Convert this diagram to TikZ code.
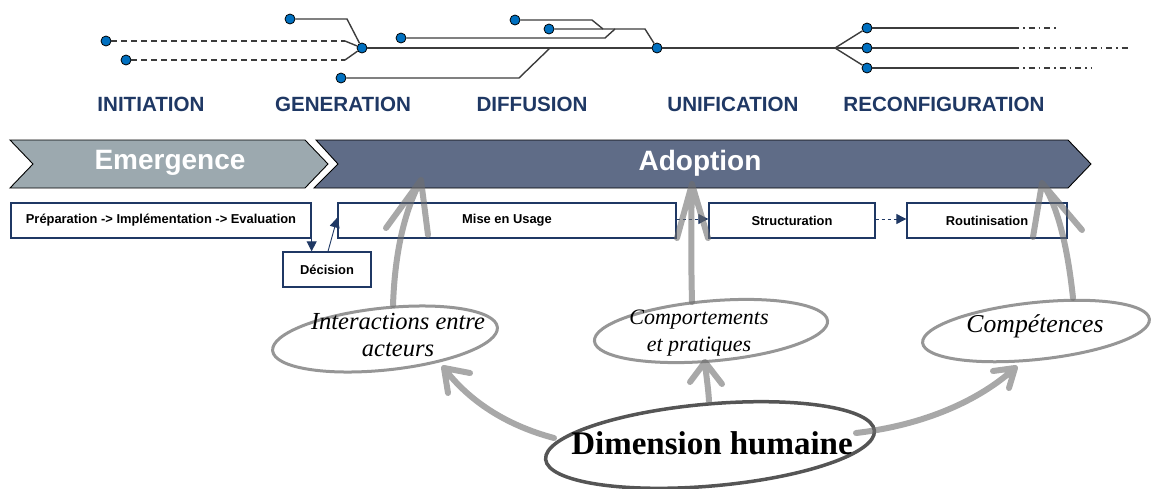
\documentclass[tikz,border=0pt]{standalone}
\usepackage{fontspec}
\setmainfont{Liberation Serif}
\setsansfont{Liberation Sans}
\usetikzlibrary{shapes.geometric,arrows.meta}
\definecolor{navy}{RGB}{31,56,100}
\definecolor{netgray}{RGB}{60,60,60}
\definecolor{dotblue}{RGB}{0,112,192}
\definecolor{emgray}{RGB}{156,169,175}
\definecolor{adpblue}{RGB}{95,108,135}
\definecolor{ellgray}{RGB}{150,150,150}
\definecolor{dimgray}{RGB}{85,85,85}
\definecolor{arrgray}{RGB}{110,110,110}
\tikzset{
  dot/.style={circle, fill=dotblue, draw=black, line width=0.8pt, inner sep=0pt, minimum size=10pt},
  net/.style={draw=netgray, line width=1.4pt},
  netdash/.style={net, dash pattern=on 6pt off 4pt},
  netdashdot/.style={net, dash pattern=on 6pt off 4pt on 1.5pt off 4pt},
  phase/.style={font=\sffamily\bfseries\fontsize{20.6}{21}\selectfont, text=navy},
  bartext/.style={font=\sffamily\bfseries\fontsize{28}{28}\selectfont, text=white},
  stagebox/.style={draw=navy, line width=1.3pt, fill=white, inner sep=0pt, minimum height=35pt,
    font=\sffamily\bfseries\fontsize{12.9}{14}\selectfont, text=black},
  bluearrow/.style={draw=navy, line width=0.9pt, -{Triangle[length=10pt,width=10pt]}},
  dasharrow/.style={bluearrow, dash pattern=on 3pt off 3pt},
  handell/.style={ellipse, draw=ellgray, line width=3pt, inner sep=0pt},
  grayarrow/.style={draw=arrgray, opacity=0.6, line width=6pt, line cap=round, line join=round},
  elltext/.style={font=\itshape\fontsize{22}{27}\selectfont, align=center}
}
\begin{document}
\begin{tikzpicture}[x=1pt,y=-1pt]
\useasboundingbox (0,0) rectangle (1152,488);

% ---------- top network ----------
\node[dot] (d1) at (106,41) {};
\node[dot] (d2) at (126,60) {};
\node[dot] (d3) at (290,19) {};
\node[dot] (hub) at (362,48) {};
\node[dot] (d4) at (401,38) {};
\node[dot] (d5) at (341,78) {};
\node[dot] (d6) at (515,20) {};
\node[dot] (d7) at (549,29) {};
\node[dot] (u) at (657,48) {};
\node[dot] (r1) at (867,28) {};
\node[dot] (r2) at (867,48) {};
\node[dot] (r3) at (867,68) {};
\coordinate (k1) at (345,41);
\coordinate (k2) at (345,60);
\coordinate (k3) at (347,19);
\coordinate (k4) at (605,38);
\coordinate (k5) at (615,29);
\coordinate (k6) at (592,20);
\coordinate (k7) at (603,29);
\coordinate (k8) at (645,29);
\coordinate (k9) at (519,78);
\coordinate (k10) at (550,48);
\coordinate (br) at (835,48);
\coordinate (s1) at (1013,28);
\coordinate (s2) at (1013,48);
\coordinate (s3) at (1013,68);
\coordinate (t1) at (1057,28);
\coordinate (t2) at (1130,48);
\coordinate (t3) at (1092,68);
\draw[netdash] (d1) -- (k1);
\draw[net] (k1) -- (hub);
\draw[netdash] (d2) -- (k2);
\draw[net] (k2) -- (hub);
\draw[net] (d3) -- (k3) -- (hub);
\draw[net] (hub) -- (u);
\draw[net] (u) -- (br);
\draw[net] (d4) -- (k4) -- (k5);
\draw[net] (d6) -- (k6) -- (k7);
\draw[net] (d7) -- (k8) -- (u);
\draw[net] (d5) -- (k9) -- (k10);
\draw[net] (br) -- (r1);
\draw[net] (br) -- (r2);
\draw[net] (br) -- (r3);
\draw[net] (r1) -- (s1);
\draw[net] (r2) -- (s2);
\draw[net] (r3) -- (s3);
\draw[netdashdot] (s1) -- (t1);
\draw[netdashdot] (s2) -- (t2);
\draw[netdashdot] (s3) -- (t3);

% ---------- phase labels ----------
\node[phase] (p1) at (151,104) {INITIATION};
\node[phase] (p2) at (343,104) {GENERATION};
\node[phase] (p3) at (532,104) {DIFFUSION};
\node[phase] (p4) at (733,104) {UNIFICATION};
\node[phase] (p5) at (944,104) {RECONFIGURATION};

% ---------- chevron bar ----------
\draw[fill=emgray, draw=black, line width=0.9pt] (10,140) -- (305,140) -- (328,164) -- (305,188) -- (10,188) -- (33,164) -- cycle;
\draw[fill=adpblue, draw=black, line width=0.9pt] (316,140) -- (1068,140) -- (1091,164) -- (1068,188) -- (314,188) -- (338,164) -- cycle;
\node[bartext] (emerg) at (170,163) {Emergence};
\node[bartext] (adopt) at (700,163) {Adoption};

% ---------- stage boxes ----------
\node[stagebox, minimum width=300pt] (prep) at (161,220.5) {Préparation -> Implémentation -> Evaluation};
\node[stagebox, minimum width=338pt] (mise) at (507,220.5) {Mise en Usage};
\node[stagebox, minimum width=166pt] (struc) at (792,220.5) {Structuration};
\node[stagebox, minimum width=160pt] (rout) at (987,220.5) {Routinisation};
\node[stagebox, minimum width=88pt] (deci) at (327,269.5) {Décision};
\draw[bluearrow] (prep.south east) ++(0,0) coordinate (pa) -- (pa |- deci.north);
\draw[bluearrow] ([xshift=1pt]deci.north) -- ([yshift=3pt]mise.west);
\draw[dasharrow] ([yshift=1.5pt]mise.east) -- ([yshift=1.5pt]struc.west);
\draw[dasharrow] ([yshift=1.5pt]struc.east) -- ([yshift=1.5pt]rout.west);

% ---------- ellipses ----------
\node[handell, minimum width=226pt, minimum height=62pt, rotate=6] (ia) at (385,339) {};
\node[handell, minimum width=234pt, minimum height=60pt, rotate=5] (cp) at (711,331) {};
\node[handell, minimum width=228pt, minimum height=57pt, rotate=6] (co) at (1036,331) {};
\node[ellipse, draw=dimgray, line width=3.5pt, inner sep=0pt, minimum width=330pt, minimum height=82pt, rotate=5] (dh) at (710,445) {};

% ---------- gray hand-drawn arrows ----------
\coordinate (a1) at (421,180);
\coordinate (a2) at (692,184);
\coordinate (a3) at (1042,183);
\coordinate (a4) at (444,368);
\coordinate (a5) at (705,362);
\coordinate (a6) at (1015,368);
\draw[grayarrow] (393,305) .. controls (395,250) and (405,210) .. (a1) -- (386,228) (a1) -- (428,235);
\draw[grayarrow] (692,302) .. controls (691,260) and (691,220) .. (a2) -- (677,238) (a2) -- (708,238);
\draw[grayarrow] (1073,298) .. controls (1068,250) and (1058,205) .. (a3) -- (1033,237) (a3) -- (1082,230);
\draw[grayarrow] (554,438) .. controls (505,425) and (468,400) .. (a4) -- (448,393) (a4) -- (470,373);
\draw[grayarrow] (709,401) .. controls (708,385) and (706,375) .. (a5) -- (690,382) (a5) -- (722,384);
\draw[grayarrow] (856,433) .. controls (925,425) and (980,400) .. (a6) -- (993,371) (a6) -- (1009,388);

% ---------- texts ----------
\node[elltext, font=\itshape\fontsize{24.5}{27}\selectfont] (iat) at (398,335) {Interactions entre\\acteurs};
\node[elltext] (cpt) at (699,333) {Comportements\\et pratiques};
\node[font=\itshape\fontsize{25.7}{28}\selectfont] (cot) at (1035,326) {Compétences};
\node[font=\bfseries\fontsize{33}{36}\selectfont] (dht) at (712,443) {Dimension humaine};
\end{tikzpicture}
\end{document}
